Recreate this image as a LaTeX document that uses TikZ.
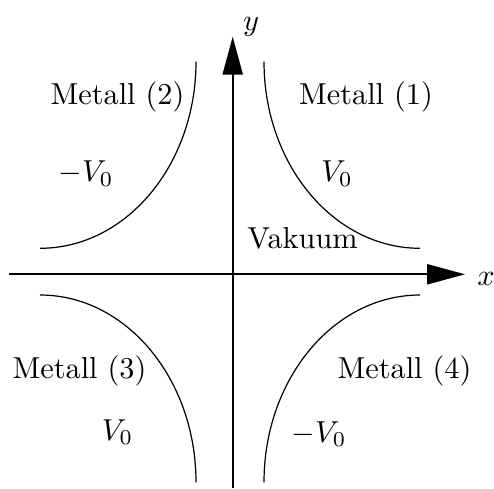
\documentclass[tikz,border=0pt]{standalone}
\usetikzlibrary{arrows.meta}
\begin{document}
\begin{tikzpicture}[x=0.33pt,y=0.33pt,
  axis/.style={line width=0.7pt,-{Triangle[length=12.5pt,width=6.6pt]}},
  wall/.style={line width=0.4pt},
  lbl/.style={inner sep=0pt,anchor=base}]
\useasboundingbox (0,0) rectangle (494,488);
% axes
\coordinate (xs) at (9.3,213.7);
\coordinate (xe) at (465,213.7);
\coordinate (ys) at (232.7,0);
\coordinate (ye) at (232.7,451.3);
\draw[axis] (xs) -- (xe);
\draw[axis] (ys) -- (ye);
\node[lbl] (xl) at (486,203) {$x$};
\node[lbl] (yl) at (251,457) {$y$};
% metal surfaces
\draw[wall] (264,426.3) arc[start angle=180,end angle=270,x radius=156,y radius=186.6];
\draw[wall] (196,426.3) arc[start angle=0,end angle=-90,x radius=156,y radius=186.6];
\draw[wall] (40,193) arc[start angle=90,end angle=0,x radius=156,y radius=187.3];
\draw[wall] (420,193) arc[start angle=90,end angle=180,x radius=156,y radius=187.3];
% labels
\node[lbl] (m2) at (117.5,383) {Metall (2)};
\node[lbl] (m1) at (366,383) {Metall (1)};
\node[lbl] (v1) at (337,306) {$V_0$};
\node[lbl] (v2) at (86,306) {$-V_0$};
\node[lbl] (vak) at (302.5,240) {Vakuum};
\node[lbl] (m3) at (79.5,110) {Metall (3)};
\node[lbl] (m4) at (404.5,110) {Metall (4)};
\node[lbl] (v3) at (117.5,48) {$V_0$};
\node[lbl] (v4) at (319,46) {$-V_0$};
\end{tikzpicture}
\end{document}
